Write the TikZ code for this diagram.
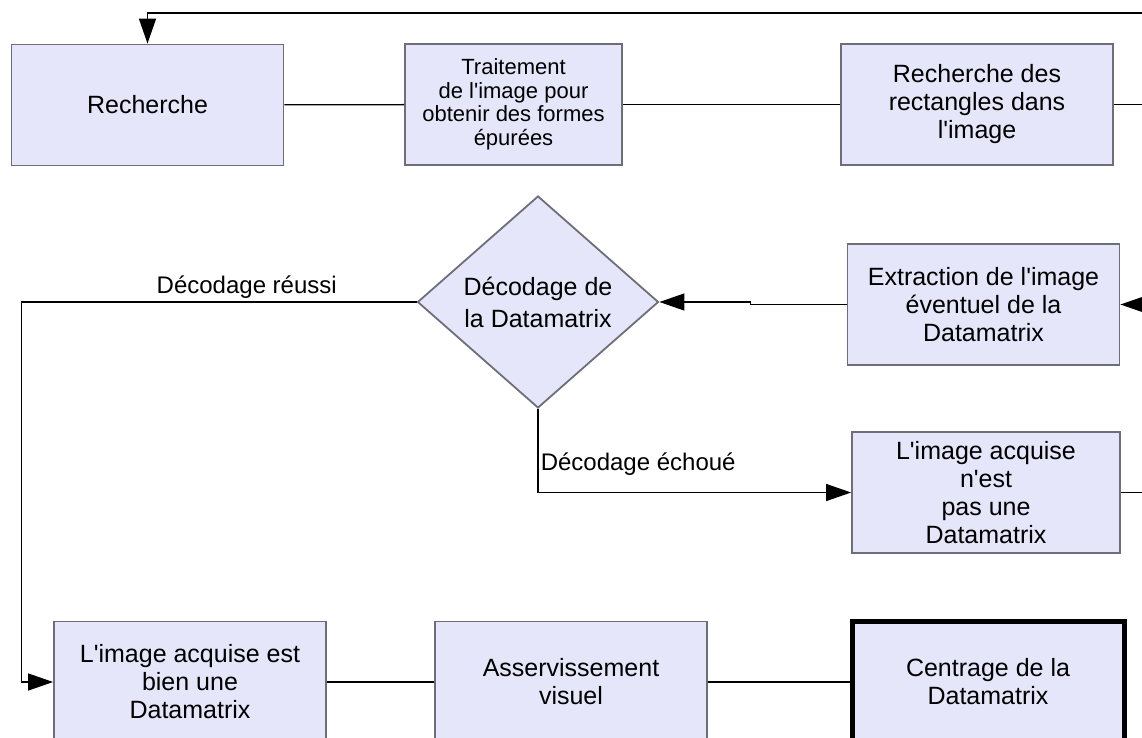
\documentclass[tikz,border=0pt]{standalone}
\usepackage{fontspec}
\setmainfont{Liberation Sans}[Ligatures=TeXOff]
\usetikzlibrary{arrows.meta,positioning,shapes.geometric}
\definecolor{boxfill}{HTML}{E6E6FA}
\definecolor{boxline}{HTML}{6E6E78}

\begin{document}
\begin{tikzpicture}[x=1pt, y=-1pt,
  font=\fontsize{25}{28}\selectfont, >={Triangle[length=25pt,width=17pt]},
  box/.style={draw=boxline, line width=1.8pt, fill=boxfill, align=center,
              minimum width=272pt, minimum height=121pt, inner sep=2pt},
  decision/.style={diamond, draw=boxline, line width=1.8pt, fill=boxfill,
              align=center, minimum width=241pt, minimum height=212pt, inner sep=0pt},
  link/.style={line width=1.3pt},
  lbl/.style={font=\fontsize{24}{28}\selectfont}]
\useasboundingbox (0,0) rectangle (1142,738);
\clip (0,0) rectangle (1142,738);
% top row
\node[box] (rech) at (147.5,105) {Recherche};
\node[box, minimum width=217pt, font=\fontsize{22}{23.5}\selectfont]
      (trait) at (513.5,104.5) {Traitement\\de l'image pour\\obtenir des formes\\épurées};
\node[box] (rect) at (977,104.5) {Recherche des\\rectangles dans\\l'image};
% middle
\node[decision, font=\fontsize{25}{32}\selectfont] (dec) at (538,302)
      {Décodage de\\la Datamatrix};
\node[box] (extr) at (983.5,304.5) {Extraction de l'image\\éventuel de la\\Datamatrix};
\node[box, minimum width=268pt] (pasdm) at (986,492.5)
      {L'image acquise\\n'est\\pas une\\Datamatrix};
% bottom row
\node[box] (bien) at (190,682) {L'image acquise est\\bien une\\Datamatrix};
\node[box] (asserv) at (571,682) {Asservissement\\visuel};
\node[box, draw=black, line width=5pt] (centr) at (988,682) {Centrage de la\\Datamatrix};
% loose ends past the right edge
\coordinate (topR) at (1160,13);
\coordinate (outR1) at (1160,104.5);
\coordinate (inR) at (1160,304.5);
\coordinate (outR2) at (1160,492.5);
% connectors
\draw[link,->] (topR) -| (rech.north);
\draw[link] (rech) -- (trait);
\draw[link] (trait) -- (rect);
\draw[link] (rect.east) -- (outR1);
\draw[link,->] (inR) -- (extr.east);
\draw[link,->] (extr.west) -- ++(-96,0) |- (dec.east);
\draw[link,->] (dec.west) -- node[lbl, above, pos=0.43] {Décodage réussi}
      ++(-395,0) |- (bien.west);
\draw[link,->] (dec.south) |- node[lbl, above, pos=0.66, yshift=13pt] {Décodage échoué}
      (pasdm.west);
\draw[link] (pasdm.east) -- (outR2);
\draw[link] (bien) -- (asserv);
\draw[link] (asserv) -- (centr);
\end{tikzpicture}
\end{document}
